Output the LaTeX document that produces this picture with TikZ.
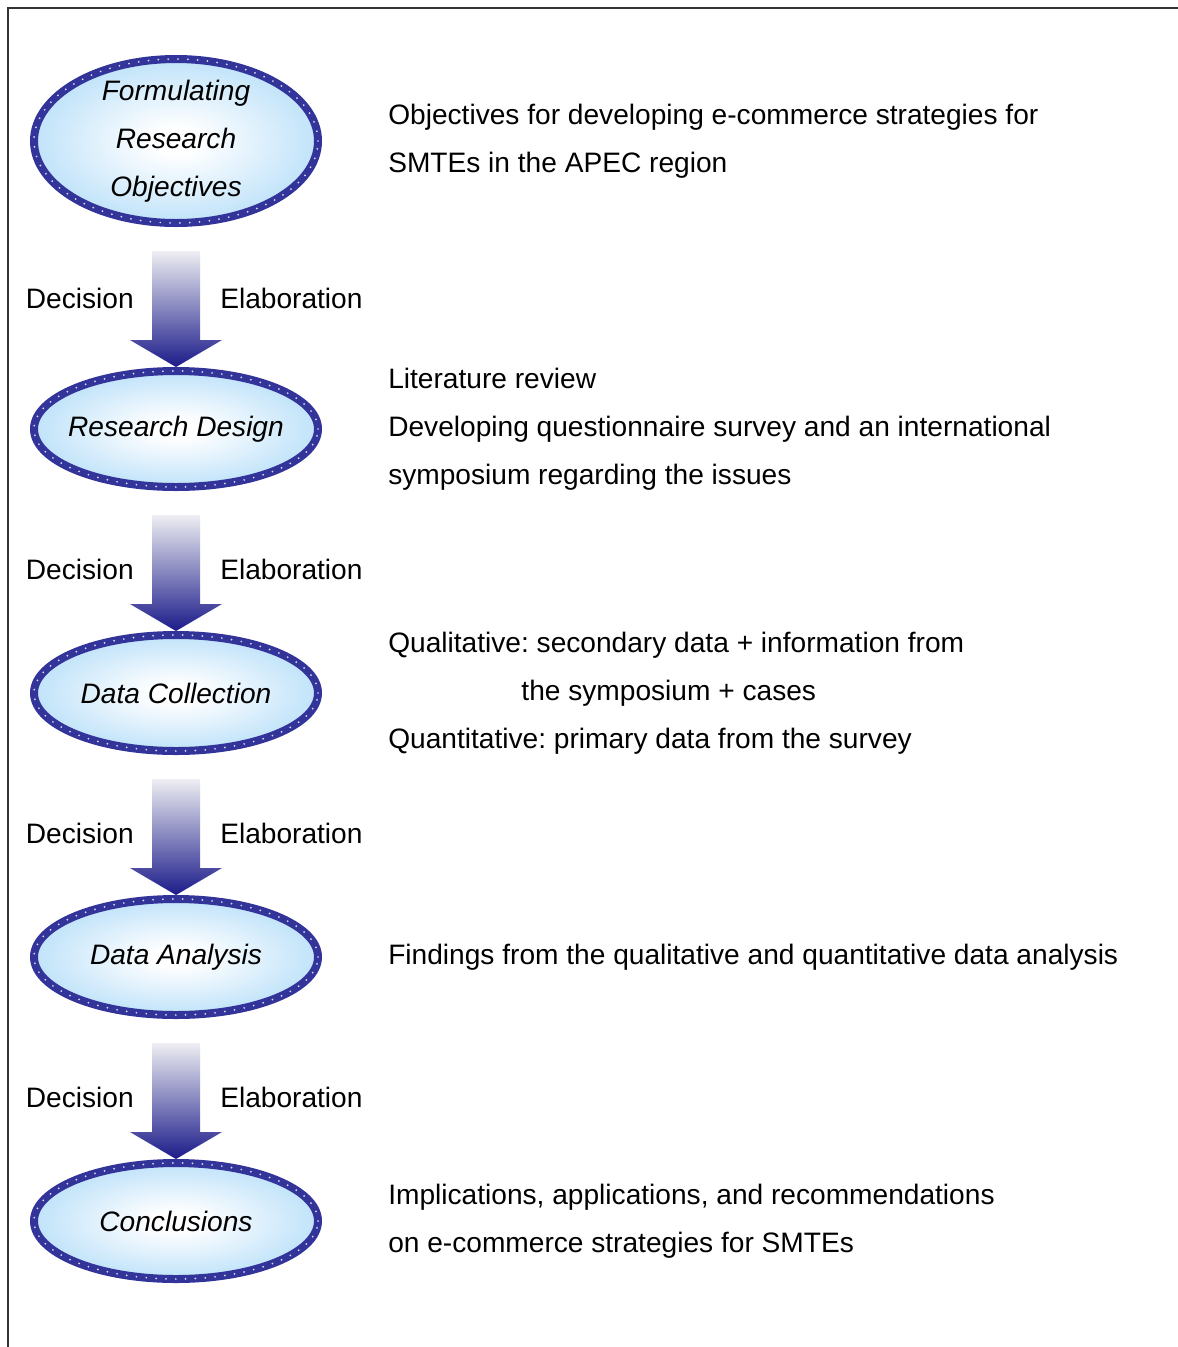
\documentclass[tikz,border=0pt]{standalone}
\usepackage{fontspec}
\setsansfont{Liberation Sans}
\usepackage{tikz}
\usetikzlibrary{calc,positioning,shapes.geometric}
\definecolor{ellEdge}{HTML}{33349A}
\definecolor{ellFill}{HTML}{C3E4FA}
\definecolor{ellDot}{HTML}{D8D8F0}
\definecolor{arrTop}{HTML}{EEEEF3}
\definecolor{arrBot}{HTML}{1B1B8A}
\definecolor{frameCol}{HTML}{333333}
\pgfdeclareradialshading{ellShade}{\pgfpoint{0bp}{0bp}}{color(0bp)=(white); color(4bp)=(white); color(24bp)=(ellFill); color(50bp)=(ellFill)}
\frenchspacing

\begin{document}
\begin{tikzpicture}[every node/.style={font=\sffamily\fontsize{20}{34}\selectfont}]
  \tikzset{ell/.style={ellipse,draw=ellEdge,line width=0.2cm,shade,shading=ellShade,inner sep=0pt,
        minimum width=7.1cm,minimum height=2.9cm,
        postaction={draw=ellDot,line width=1.4pt,dash pattern=on 0pt off 7pt,line cap=round}},
    etxt/.style={font=\sffamily\itshape\fontsize{20}{34}\selectfont,align=center,inner sep=0pt},
    desc/.style={align=left,inner sep=0pt},
    lbl/.style={inner sep=0pt}}
  \useasboundingbox (0,0) rectangle (29.45,-33.675);
  \draw[frameCol,line width=0.05cm] (29.45,-0.2) -- (0.2,-0.2) -- (0.2,-33.675);
  % steps
  \node[ell,minimum height=4.1cm] (fro) at (4.4,-3.525) {};
  \node[ell,below=3.5cm of fro] (rd) {};
  \node[ell,below=3.5cm of rd] (dc) {};
  \node[ell,below=3.5cm of dc] (da) {};
  \node[ell,below=3.5cm of da] (con) {};
  \node[etxt] (frot) at (fro) {Formulating\\Research\\Objectives};
  \node[etxt] (rdt) at (rd) {Research Design};
  \node[etxt] (dct) at (dc) {Data Collection};
  \node[etxt] (dat) at (da) {Data Analysis};
  \node[etxt] (cont) at (con) {Conclusions};
  % notes on the right
  \node[desc,right=1.65cm of fro] (obj) {Objectives for developing e-commerce strategies for\\SMTEs in the APEC region};
  \node[desc,right=1.65cm of rd] (lit) {Literature review\\Developing questionnaire survey and an international\\symposium regarding the issues};
  \node[desc,right=1.65cm of dc] (qual) {Qualitative: secondary data + information from\\\hspace*{3.33cm}the symposium + cases\\Quantitative: primary data from the survey};
  \node[desc,right=1.65cm of da] (find) {Findings from the qualitative and quantitative data analysis};
  \node[desc,right=1.65cm of con] (impl) {Implications, applications, and recommendations\\on e-commerce strategies for SMTEs};
  % block arrows between the steps
  \foreach \a/\b/\k/\up in {fro/rd/1/1.72,rd/dc/2/1.53,dc/da/3/1.53,da/con/4/1.53}{
    \coordinate (t\k) at ($(\a.south)+(0,-0.6)$);
    \coordinate (h\k) at (\b.north);
    \shade[top color=arrTop,bottom color=arrBot] ([xshift=-0.6cm]t\k) -- ([xshift=0.6cm]t\k)
        -- ([xshift=0.6cm,yshift=0.675cm]h\k) -- ([xshift=1.15cm,yshift=0.675cm]h\k) -- (h\k)
        -- ([xshift=-1.15cm,yshift=0.675cm]h\k) -- ([xshift=-0.6cm,yshift=0.675cm]h\k) -- cycle;
    \coordinate (m\k) at ($(h\k)+(0,\up)$);
    \node[lbl,left=1.05cm of m\k] (dec\k) {Decision};
    \node[lbl,right=1.1cm of m\k] (ela\k) {Elaboration};
  }
\end{tikzpicture}
\end{document}
